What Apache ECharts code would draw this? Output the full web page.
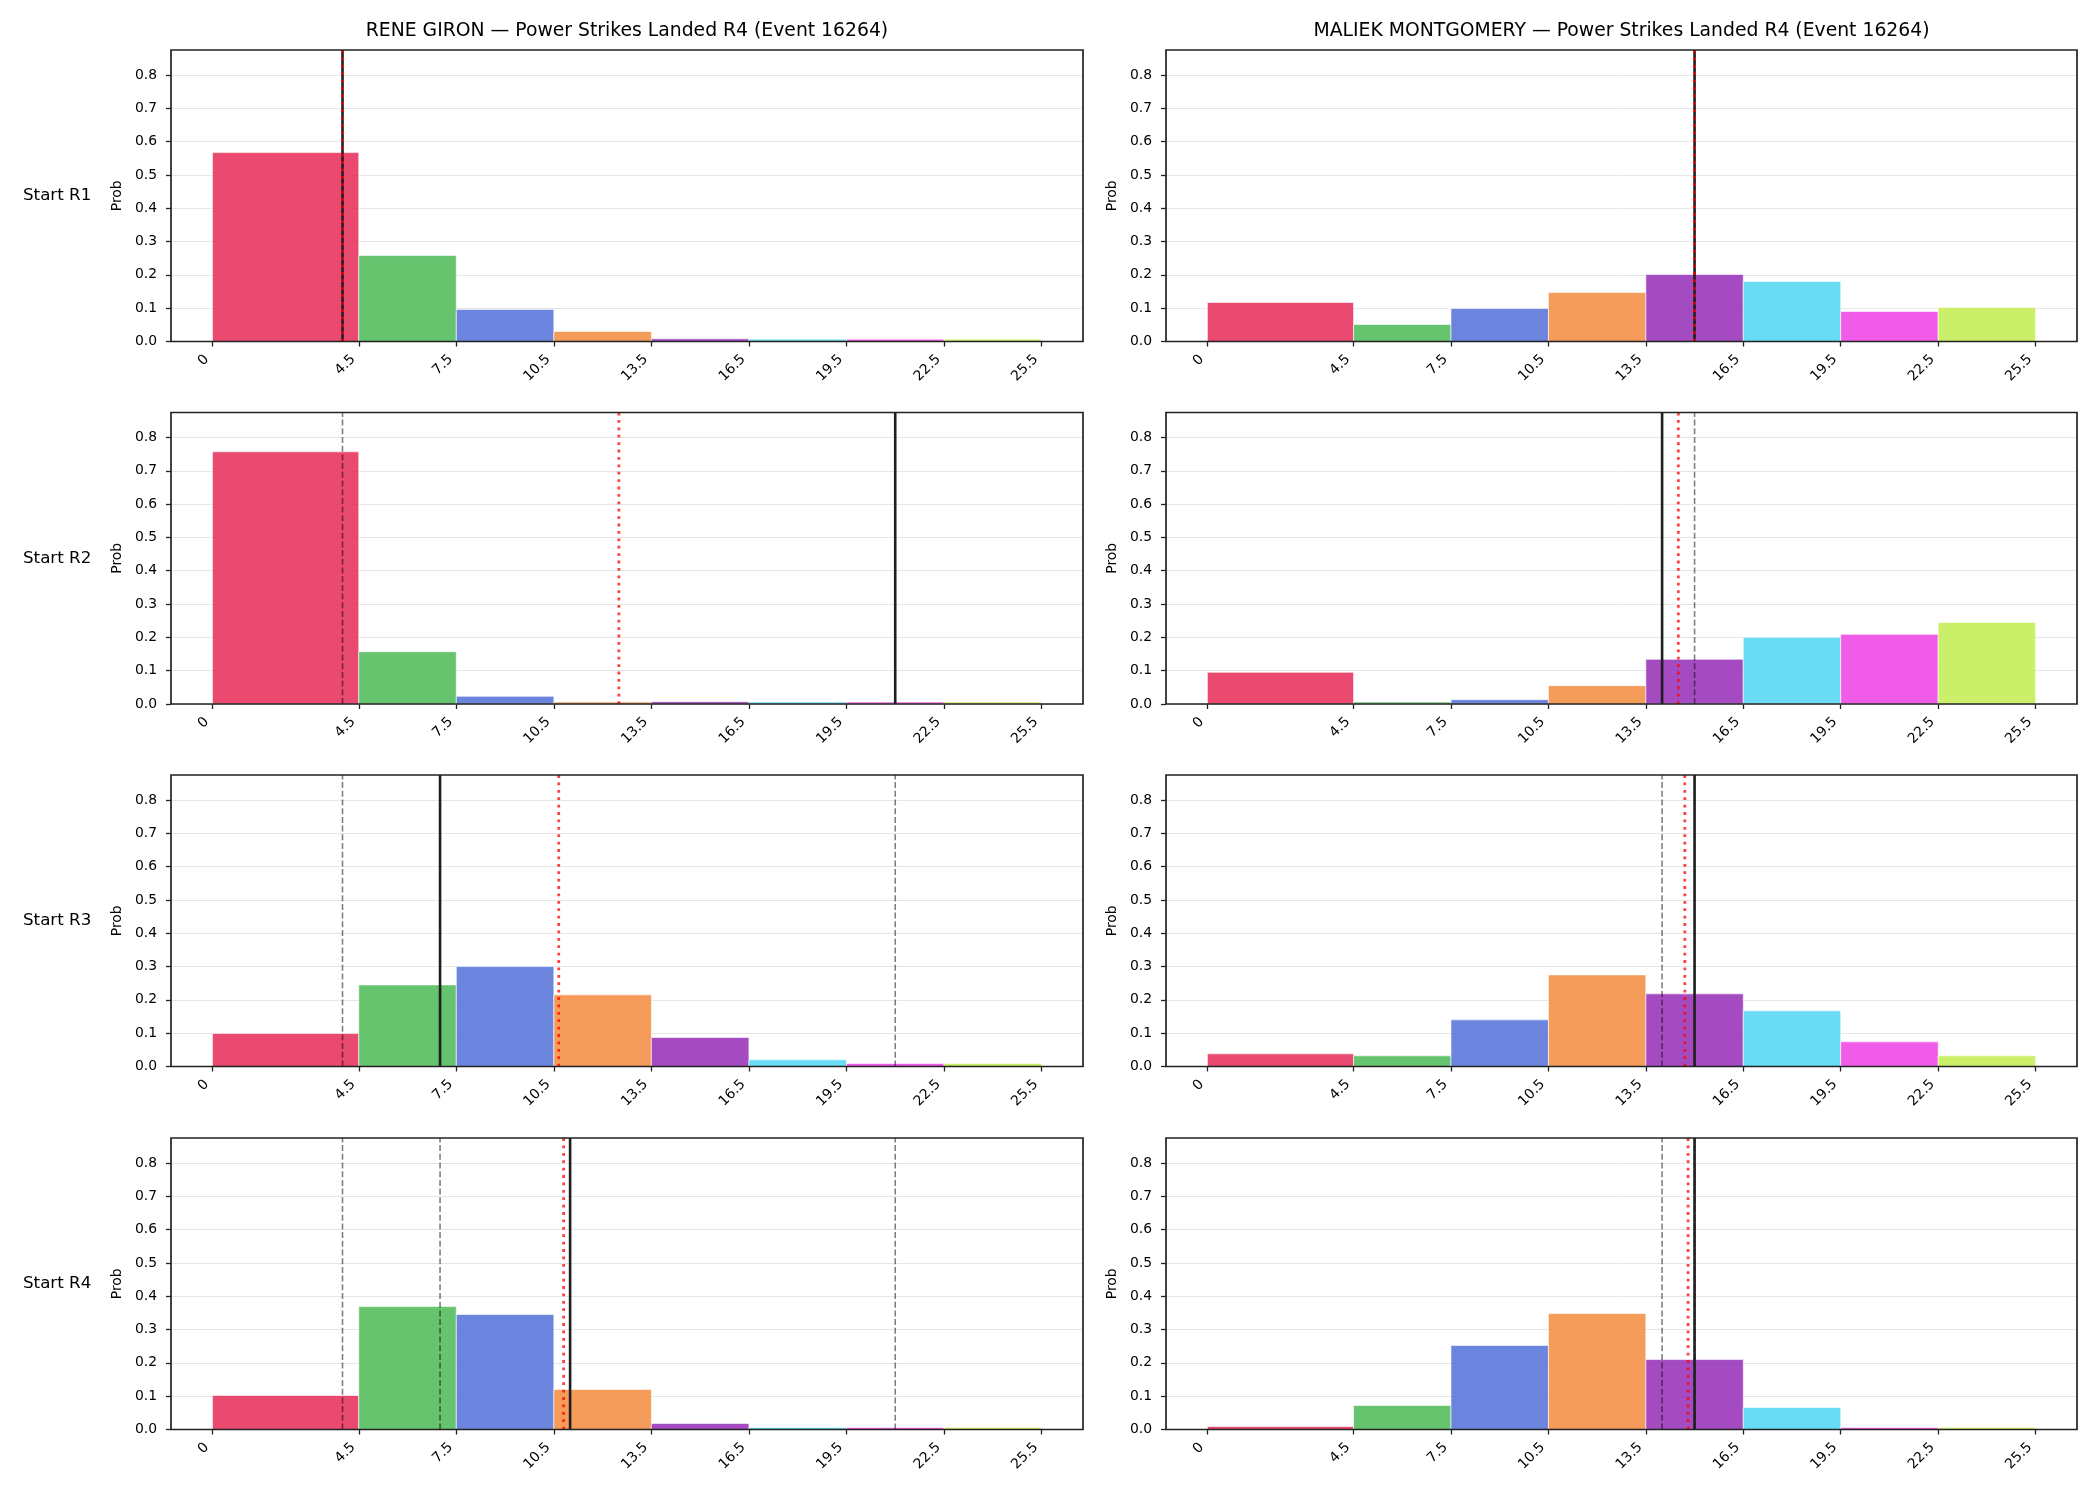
<!DOCTYPE html>
<html>
<head>
<meta charset="utf-8">
<title>Power Strikes Landed R4 (Event 16264)</title>
<script src="https://cdn.jsdelivr.net/npm/echarts@6/dist/echarts.min.js"></script>
<style>
  html, body { margin: 0; padding: 0; background: #fff; }
  #main { width: 2100px; height: 1500px; }
</style>
</head>
<body>
<div id="main"></div>
<script>
// histogram bins (same for every panel)
var binEdges = [0, 4.5, 7.5, 10.5, 13.5, 16.5, 19.5, 22.5, 25.5];
var xTickLabels = ['0', '4.5', '7.5', '10.5', '13.5', '16.5', '19.5', '22.5', '25.5'];
var yTicks = [0, 0.1, 0.2, 0.3, 0.4, 0.5, 0.6, 0.7, 0.8];
var binColors = ['#e62a56', '#4bba56', '#516ed8', '#f48b3e', '#952cb7', '#4fd5f2', '#ed3ee4', '#c3ec4f'];

var fighters = ['RENE GIRON', 'MALIEK MONTGOMERY'];
var rowLabels = ['Start R1', 'Start R2', 'Start R3', 'Start R4'];

// probability per bin, one row per starting round
var gironProb = [
    [0.567, 0.258, 0.096, 0.030, 0.008, 0.007, 0.007, 0.007],
    [0.757, 0.157, 0.023, 0.006, 0.007, 0.006, 0.006, 0.006],
    [0.099, 0.245, 0.300, 0.215, 0.087, 0.020, 0.009, 0.009],
    [0.102, 0.369, 0.345, 0.120, 0.018, 0.006, 0.006, 0.006]
];
var montgomeryProb = [
    [0.117, 0.051, 0.099, 0.147, 0.201, 0.180, 0.090, 0.102],
    [0.095, 0.006, 0.013, 0.055, 0.134, 0.200, 0.209, 0.245],
    [0.038, 0.032, 0.140, 0.275, 0.218, 0.167, 0.074, 0.032],
    [0.009, 0.072, 0.252, 0.348, 0.210, 0.066, 0.006, 0.006]
];

// vertical reference lines: solid = actual, dotted = mean, dashed = earlier rounds
var gironActual = [4, 21, 7, 11];
var gironMean = [4, 12.5, 10.65, 10.8];
var gironPrev = [[], [4], [4, 21], [4, 21, 7]];
var montgomeryActual = [15, 14, 15, 15];
var montgomeryMean = [15, 14.5, 14.7, 14.8];
var montgomeryPrev = [[], [15], [15, 14], [15, 14, 15]];

var probs = [gironProb, montgomeryProb];
var actuals = [gironActual, montgomeryActual];
var means = [gironMean, montgomeryMean];
var prevs = [gironPrev, montgomeryPrev];

var chart = echarts.init(document.getElementById('main'));

var FONT = 'DejaVu Sans';
var yMax = 0.875;
var gridLeft = [171, 1166];
var gridWidth = [912, 911];
var gridTop = [50, 412.5, 775, 1138];
var gridHeight = 291.5;

var grids = [], xAxes = [], yAxes = [], series = [], graphics = [];

function renderBin(params, api) {
    var p0 = api.coord([api.value(0), api.value(2)]);
    var p1 = api.coord([api.value(1), 0]);
    return {
        type: 'rect',
        shape: { x: p0[0], y: p0[1], width: p1[0] - p0[0], height: p1[1] - p0[1] },
        style: { fill: binColors[params.dataIndex], opacity: 0.85, stroke: '#fff', lineWidth: 0.7 }
    };
}

function vline(idx, x, style, z) {
    series.push({
        type: 'line',
        xAxisIndex: idx,
        yAxisIndex: idx,
        data: [[x, 0], [x, yMax]],
        symbol: 'none',
        silent: true,
        z: z,
        lineStyle: style
    });
}

for (var r = 0; r < 4; r++) {
    for (var c = 0; c < 2; c++) {
        var idx = grids.length;
        // z above the series so the frame sits on top of the bars, like matplotlib spines
        grids.push({
            left: gridLeft[c], top: gridTop[r], width: gridWidth[c], height: gridHeight,
            show: true, borderColor: '#222', borderWidth: 1.7, backgroundColor: 'transparent', z: 10
        });
        xAxes.push({
            gridIndex: idx, type: 'value', min: -1.275, max: 26.775,
            axisLine: { show: false, onZero: false },
            splitLine: { show: false },
            axisTick: { show: true, customValues: binEdges, length: 5, lineStyle: { color: '#222', width: 1.3 } },
            axisLabel: {
                customValues: binEdges, rotate: 45, margin: 10, padding: [0, 8, 0, 0],
                fontFamily: FONT, fontSize: 13.9, color: '#000',
                formatter: function (v) { return xTickLabels[binEdges.indexOf(v)]; }
            }
        });
        yAxes.push({
            gridIndex: idx, type: 'value', min: 0, max: yMax, interval: 0.1,
            name: 'Prob', nameLocation: 'middle', nameGap: 47,
            nameTextStyle: { fontFamily: FONT, fontSize: 13.9, color: '#000' },
            axisLine: { show: false, onZero: false },
            axisTick: { show: true, customValues: yTicks, length: 5, lineStyle: { color: '#222', width: 1.3 } },
            axisLabel: {
                customValues: yTicks, margin: 14, fontFamily: FONT, fontSize: 13.9, color: '#000',
                formatter: function (v) { return v.toFixed(1); }
            },
            splitLine: { show: true, lineStyle: { color: '#e6e6e6', width: 1 } }
        });

        var bins = probs[c][r].map(function (p, i) { return [binEdges[i], binEdges[i + 1], p]; });
        series.push({
            type: 'custom',
            xAxisIndex: idx,
            yAxisIndex: idx,
            renderItem: renderBin,
            encode: { x: [0, 1], y: 2 },
            data: bins,
            z: 2
        });

        prevs[c][r].forEach(function (x) {
            vline(idx, x, { color: 'rgba(0,0,0,0.5)', width: 1.6, type: [6, 2.7] }, 3);
        });
        vline(idx, actuals[c][r], { color: '#1f1f1f', width: 2.6, type: 'solid' }, 4);
        vline(idx, means[c][r], { color: 'rgba(255,0,0,0.75)', width: 2.8, type: [2.8, 4.6], cap: 'butt' }, 5);
    }
}

// column titles and row labels
for (var c2 = 0; c2 < 2; c2++) {
    graphics.push({
        type: 'text',
        x: gridLeft[c2] + gridWidth[c2] / 2,
        y: 31,
        style: {
            text: fighters[c2] + ' \u2014 Power Strikes Landed R4 (Event 16264)',
            font: '18.8px "DejaVu Sans"', fill: '#000', align: 'center', verticalAlign: 'middle'
        }
    });
}
for (var r2 = 0; r2 < 4; r2++) {
    graphics.push({
        type: 'text',
        x: 23,
        y: gridTop[r2] + gridHeight / 2,
        style: {
            text: rowLabels[r2],
            font: '16.7px "DejaVu Sans"', fill: '#000', align: 'left', verticalAlign: 'middle'
        }
    });
}

chart.setOption({
    animation: false,
    backgroundColor: '#fff',
    grid: grids,
    xAxis: xAxes,
    yAxis: yAxes,
    series: series,
    graphic: graphics
});
</script>
</body>
</html>
